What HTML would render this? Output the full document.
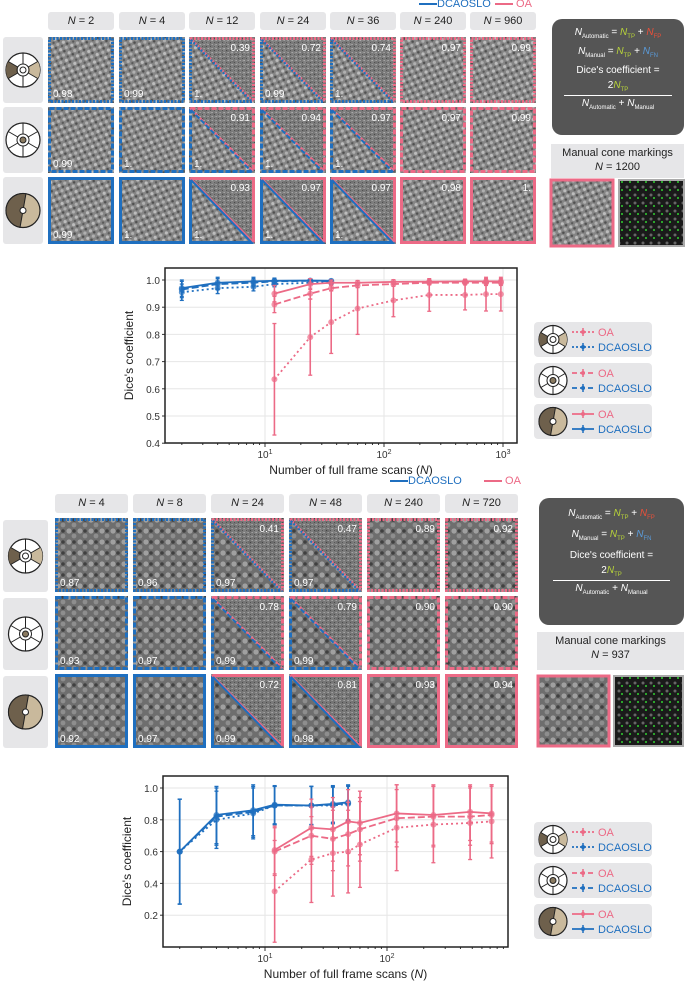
<!DOCTYPE html>
<html><head><meta charset="utf-8">
<style>
body{margin:0;background:#fff;font-family:"Liberation Sans",sans-serif;}
#root{position:relative;width:685px;height:982px;overflow:hidden;}
.hdr{position:absolute;background:#e6e6e8;border-radius:3px;font-size:11px;color:#222;text-align:center;}
.hdr i{font-style:italic}
.fbox{position:absolute;background:#555;border-radius:10px;color:#fff;font-size:10px;text-align:center;}
.mbox{position:absolute;background:#e6e6e8;font-size:11px;text-align:center;color:#222;line-height:14px;}
.lg{position:absolute;font-size:11px;}
</style></head><body>
<div id="root">
<svg id="defs" width="0" height="0" style="position:absolute">
<defs>
<pattern id="tex" width="9" height="8" patternUnits="userSpaceOnUse" patternTransform="rotate(20)">
<rect width="9" height="8" fill="#858585"/>
<circle cx="2" cy="2" r="1.6" fill="#bdbdbd"/><circle cx="6.5" cy="6" r="1.6" fill="#b0b0b0"/>
<circle cx="6" cy="2" r="1.3" fill="#505050"/><circle cx="2" cy="6" r="1.2" fill="#5a5a5a"/>
</pattern>
<pattern id="tex2" width="11" height="11" patternUnits="userSpaceOnUse">
<rect width="11" height="11" fill="#6e6e6e"/>
<circle cx="3" cy="3" r="2.6" fill="#a0a0a0"/><circle cx="8" cy="8" r="2.4" fill="#8e8e8e"/>
<circle cx="8" cy="3" r="1.8" fill="#404040"/>
</pattern>
<pattern id="noise" width="4" height="4" patternUnits="userSpaceOnUse">
<rect width="4" height="4" fill="#777"/><rect width="1" height="1" fill="#aaa"/><rect x="2" y="2" width="1" height="1" fill="#444"/><rect x="3" y="0" width="1" height="1" fill="#999"/>
</pattern>
<pattern id="dark" width="8" height="8" patternUnits="userSpaceOnUse">
<rect width="8" height="8" fill="#1a1a1a"/><circle cx="3" cy="3" r="1.5" fill="#666"/><circle cx="6" cy="6" r="1" fill="#30d030"/>
</pattern>
</defs></svg>

<div class="lg" style="left:419px;top:-2px;color:#1f6fbf"><span style="display:inline-block;width:18px;border-top:2px solid #1f6fbf;vertical-align:middle"></span>DCAOSLO</div>
<div class="lg" style="left:495px;top:-2px;color:#ec6a86"><span style="display:inline-block;width:18px;border-top:2px solid #ec6a86;vertical-align:middle"></span> OA</div>
<div class="lg" style="left:390px;top:475px;color:#1f6fbf"><span style="display:inline-block;width:18px;border-top:2px solid #1f6fbf;vertical-align:middle"></span>DCAOSLO</div>
<div class="lg" style="left:484px;top:475px;color:#ec6a86"><span style="display:inline-block;width:18px;border-top:2px solid #ec6a86;vertical-align:middle"></span> OA</div>

<div class="fbox" style="left:552px;top:19px;width:132px;height:116px">
<div style="margin-top:8px"><i>N</i><sub style="font-size:6px">Automatic</sub> = <i style="color:#b7d23a">N</i><sub style="font-size:6px;color:#b7d23a">TP</sub> + <i style="color:#e8503a">N</i><sub style="font-size:6px;color:#e8503a">FP</sub></div>
<div style="margin-top:6px"><i>N</i><sub style="font-size:6px">Manual</sub> = <i style="color:#b7d23a">N</i><sub style="font-size:6px;color:#b7d23a">TP</sub> + <i style="color:#5a9ad8">N</i><sub style="font-size:6px;color:#5a9ad8">FN</sub></div>
<div style="margin-top:6px">Dice's coefficient =</div>
<div style="margin-top:4px">2<i style="color:#b7d23a">N</i><sub style="font-size:6px;color:#b7d23a">TP</sub></div>
<div style="margin:2px 12px;border-top:1.5px solid #fff"></div>
<div><i>N</i><sub style="font-size:6px">Automatic</sub> + <i>N</i><sub style="font-size:6px">Manual</sub></div>
</div>
<div class="mbox" style="left:551px;top:144px;width:133px;height:32px;padding-top:2px">Manual cone markings<br><i>N</i> = 1200</div>

<div class="fbox" style="left:539px;top:498px;width:145px;height:127px">
<div style="margin-top:10px"><i>N</i><sub style="font-size:6px">Automatic</sub> = <i style="color:#b7d23a">N</i><sub style="font-size:6px;color:#b7d23a">TP</sub> + <i style="color:#e8503a">N</i><sub style="font-size:6px;color:#e8503a">FP</sub></div>
<div style="margin-top:8px"><i>N</i><sub style="font-size:6px">Manual</sub> = <i style="color:#b7d23a">N</i><sub style="font-size:6px;color:#b7d23a">TP</sub> + <i style="color:#5a9ad8">N</i><sub style="font-size:6px;color:#5a9ad8">FN</sub></div>
<div style="margin-top:8px">Dice's coefficient =</div>
<div style="margin-top:4px">2<i style="color:#b7d23a">N</i><sub style="font-size:6px;color:#b7d23a">TP</sub></div>
<div style="margin:2px 14px;border-top:1.5px solid #fff"></div>
<div><i>N</i><sub style="font-size:6px">Automatic</sub> + <i>N</i><sub style="font-size:6px">Manual</sub></div>
</div>
<div class="mbox" style="left:537px;top:632px;width:147px;height:36px;padding-top:2px">Manual cone markings<br><i>N</i> = 937</div>

<svg id="tiles" width="685" height="982" style="position:absolute;left:0;top:0"></svg>
<svg id="charts" width="685" height="982" style="position:absolute;left:0;top:0"></svg>
</div>

<script>
const topBlueN = [2,4,8,12,24,36];
const topBlueSolid = [0.97,0.99,0.995,0.997,0.998,0.997];
const topBlueDashed = [0.965,0.985,0.99,0.995,0.997,0.995];
const topBlueDotted = [0.955,0.97,0.975,0.985,0.99,0.99];
const topBlueErr = [0.03,0.02,0.015,0.01,0.005,0.005];
const topPinkN = [12,24,36,60,120,240,480,720,960];
const topPinkSolid = [0.95,0.985,0.99,0.99,0.993,0.994,0.995,0.995,0.995];
const topPinkDashed = [0.91,0.95,0.97,0.98,0.985,0.99,0.99,0.99,0.99];
const topPinkDotted = [0.635,0.79,0.845,0.895,0.925,0.945,0.945,0.948,0.948];
const topPinkDottedErr = [0.205,0.14,0.115,0.095,0.06,0.06,0.055,0.062,0.062];
const topPinkErr = [0.03,0.02,0.01,0.008,0.008,0.008,0.008,0.01,0.01];
const topYTicks = [0.4,0.5,0.6,0.7,0.8,0.9,1.0];
const topYLabels = ["0.4","0.5","0.6","0.7","0.8","0.9","1.0"];

const botBlueN = [2,4,8,12,24,36,48];
const botBlueSolid = [0.60,0.83,0.86,0.895,0.89,0.90,0.91];
const botBlueDashed = [0.60,0.82,0.85,0.89,0.89,0.895,0.905];
const botBlueDotted = [0.60,0.80,0.84,0.89,0.89,0.89,0.90];
const botBlueErr = [0.33,0.18,0.16,0.12,0.12,0.115,0.11];
const botPinkN = [12,24,36,48,60,120,240,480,720];
const botPinkSolid = [0.61,0.75,0.74,0.79,0.78,0.84,0.83,0.85,0.84];
const botPinkDashed = [0.60,0.70,0.68,0.71,0.74,0.81,0.82,0.82,0.83];
const botPinkDotted = [0.35,0.55,0.59,0.60,0.645,0.75,0.77,0.78,0.79];
const botPinkErr = [0.15,0.18,0.2,0.2,0.2,0.18,0.19,0.18,0.18];
const botPinkDottedErr = [0.32,0.27,0.27,0.26,0.27,0.27,0.24,0.23,0.23];
const botYTicks = [0.2,0.4,0.6,0.8,1.0];
const botYLabels = ["0.2","0.4","0.6","0.8","1.0"];
const xTickPow = [1,2,3];

const NS="http://www.w3.org/2000/svg";
function mk(p,t,a){const e=document.createElementNS(NS,t);for(const k in a)e.setAttribute(k,a[k]);p.appendChild(e);return e;}
const BLUE="#1f6fbf",PINK="#ec6a86";

function chart(g,c){
  const L=c.l,R=c.r,T=c.t,B=c.b;
  const xs=v=>c.x10+(Math.log10(v)-1)*c.dec;
  const ys=v=>c.y1+(1-v)*c.ppu;
  mk(g,'rect',{x:L,y:T,width:R-L,height:B-T,fill:'#fff'});
  c.yt.forEach((v,i)=>{
    const l=mk(g,'line',{x1:L,x2:R,y1:ys(v),y2:ys(v),stroke:'#e6e6e6','stroke-width':1});
    
    const t=mk(g,'text',{x:L-5,y:ys(v)+4,'text-anchor':'end','font-size':10,fill:'#333'});t.textContent=c.yl[i];
    
    mk(g,'line',{x1:L-3,x2:L,y1:ys(v),y2:ys(v),stroke:'#333'});
  });
  xTickPow.forEach(p=>{
    const x=xs(Math.pow(10,p)); if(x>R-1)return;
    const l=mk(g,'line',{x1:x,x2:x,y1:T,y2:B,stroke:'#e6e6e6'});
    
    mk(g,'line',{x1:x,x2:x,y1:B,y2:B+4,stroke:'#333'});
    const t=mk(g,'text',{x:x,y:B+15,'text-anchor':'middle','font-size':10,fill:'#333'});
    t.textContent='10';mk(t,'tspan',{dy:-4,'font-size':7}).textContent=String(p);
    
  });
  for(let p=0;p<=3;p++)for(let m=2;m<10;m++){const xm=xs(m*Math.pow(10,p));if(xm>L&&xm<R)mk(g,'line',{x1:xm,x2:xm,y1:B,y2:B+2,stroke:'#333'});}
  const top=c.ymax;
  function series(N,V,E,col,dash,name){
    const pts=N.map((n,i)=>xs(n)+','+ys(V[i])).join(' ');
    N.forEach((n,i)=>{
      const x=xs(n),hi=Math.min(V[i]+E[i],top),lo=V[i]-E[i];
      const eb=mk(g,'line',{x1:x,x2:x,y1:ys(hi),y2:ys(lo),stroke:col,'stroke-width':1.6});
      
      mk(g,'line',{x1:x-2,x2:x+2,y1:ys(hi),y2:ys(hi),stroke:col,'stroke-width':1.3});
      mk(g,'line',{x1:x-2,x2:x+2,y1:ys(lo),y2:ys(lo),stroke:col,'stroke-width':1.3});
    });
    const pl=mk(g,'polyline',{points:pts,fill:'none',stroke:col,'stroke-width':1.8,'stroke-dasharray':dash});
    
    N.forEach((n,i)=>{
      const p=mk(g,'circle',{cx:xs(n),cy:ys(V[i]),r:3,fill:col,'fill-opacity':0.7});
      
    });
  }
  c.series.forEach(s=>series(...s));
  const fr=mk(g,'rect',{x:L,y:T,width:R-L,height:B-T,fill:'none',stroke:'#222','stroke-width':1.5});
  
  const xt=mk(g,'text',{x:(L+R)/2+10,y:B+31,'text-anchor':'middle','font-size':12,fill:'#222'});
  xt.textContent='Number of full frame scans (';mk(xt,'tspan',{'font-style':'italic'}).textContent='N';mk(xt,'tspan',{}).textContent=')';
  
  const yt=mk(g,'text',{x:0,y:0,'text-anchor':'middle','font-size':12,fill:'#222',transform:`translate(${L-32},${(T+B)/2}) rotate(-90)`});
  yt.textContent="Dice's coefficient";
  
}
const C=document.getElementById('charts');
const g1=mk(C,'g',{});
chart(g1,{l:165,r:517,t:268,b:443,x10:265,dec:119,y1:280,ppu:272,ymax:1.015,yt:topYTicks,yl:topYLabels,series:[
 [topBlueN,topBlueDotted,topBlueErr,BLUE,'2 3','dcaoslo-dotted'],
 [topBlueN,topBlueDashed,topBlueErr,BLUE,'7 3','dcaoslo-dashed'],
 [topBlueN,topBlueSolid,topBlueErr,BLUE,'','dcaoslo-solid'],
 [topPinkN,topPinkDotted,topPinkDottedErr,PINK,'2 3','oa-dotted'],
 [topPinkN,topPinkDashed,topPinkErr,PINK,'7 3','oa-dashed'],
 [topPinkN,topPinkSolid,topPinkErr,PINK,'','oa-solid']]});
const g2=mk(C,'g',{});
chart(g2,{l:163,r:508,t:776,b:947,x10:265,dec:122,y1:788,ppu:159,ymax:1.02,yt:botYTicks,yl:botYLabels,series:[
 [botBlueN,botBlueDotted,botBlueErr,BLUE,'2 3','dcaoslo-dotted'],
 [botBlueN,botBlueDashed,botBlueErr,BLUE,'7 3','dcaoslo-dashed'],
 [botBlueN,botBlueSolid,botBlueErr,BLUE,'','dcaoslo-solid'],
 [botPinkN,botPinkDotted,botPinkDottedErr,PINK,'2 3','oa-dotted'],
 [botPinkN,botPinkDashed,botPinkErr,PINK,'7 3','oa-dashed'],
 [botPinkN,botPinkSolid,botPinkErr,PINK,'','oa-solid']]});

function icon(p,cx,cy,r,type){
  const g=mk(p,'g',{});
  
  if(type===3){
    mk(g,'circle',{cx,cy,r,fill:'#c9b99c',stroke:'#222','stroke-width':1.2});
    const a1=-80*Math.PI/180,a2=100*Math.PI/180;
    mk(g,'path',{d:`M${cx+r*Math.cos(a1)},${cy+r*Math.sin(a1)} A${r},${r} 0 0 0 ${cx+r*Math.cos(a2)},${cy+r*Math.sin(a2)} Z`,fill:'#6e604c',stroke:'#222'});
    mk(g,'circle',{cx,cy,r:3,fill:'#fff',stroke:'#222'});
    return;
  }
  mk(g,'circle',{cx,cy,r,fill:'#fff',stroke:'#222','stroke-width':1.2});
  if(type===1){
    const sec=(a,b,f)=>{const A=a*Math.PI/180,B=b*Math.PI/180,ri=6;
      mk(g,'path',{d:`M${cx+ri*Math.cos(A)},${cy+ri*Math.sin(A)} L${cx+r*Math.cos(A)},${cy+r*Math.sin(A)} A${r},${r} 0 0 1 ${cx+r*Math.cos(B)},${cy+r*Math.sin(B)} L${cx+ri*Math.cos(B)},${cy+ri*Math.sin(B)} Z`,fill:f});};
    sec(150,210,'#6e604c');sec(-30,30,'#c9b99c');
  }
  for(let k=0;k<6;k++){const a=(k*60+30)*Math.PI/180;mk(g,'line',{x1:cx+6*Math.cos(a),y1:cy+6*Math.sin(a),x2:cx+r*Math.cos(a),y2:cy+r*Math.sin(a),stroke:'#222'});}
  mk(g,'circle',{cx,cy,r:6,fill:'none',stroke:'#222'});
  mk(g,'circle',{cx,cy,r:3,fill:type===2?'#8a7a60':'#fff',stroke:'#222'});
}

const S=document.getElementById('tiles');
function tile(x,y,w,h,kind,style,lo,hi,pat){
  const g=mk(S,'g',{});
  
  mk(g,'rect',{x,y,width:w,height:h,fill:'url(#'+pat+')'});
  const dash=style==='dot'?'2 1.5':style==='dash'?'5 2':'';
  const sw=3;
  if(kind==='split'){
    mk(g,'path',{d:`M${x},${y} L${x+w},${y} L${x+w},${y+h} Z`,fill:'url(#noise)','fill-opacity':0.8});
    mk(g,'path',{d:`M${x+1.5},${y+1.5} L${x+w-1.5},${y+1.5} L${x+w-1.5},${y+h-1.5}`,fill:'none',stroke:PINK,'stroke-width':sw,'stroke-dasharray':dash});
    mk(g,'path',{d:`M${x+1.5},${y+1.5} L${x+1.5},${y+h-1.5} L${x+w-1.5},${y+h-1.5}`,fill:'none',stroke:BLUE,'stroke-width':sw,'stroke-dasharray':dash});
    mk(g,'line',{x1:x+1,y1:y+1,x2:x+w-2,y2:y+h-2,stroke:PINK,'stroke-width':2,'stroke-dasharray':dash});
    mk(g,'line',{x1:x+2,y1:y+3,x2:x+w-3,y2:y+h-1,stroke:BLUE,'stroke-width':2,'stroke-dasharray':dash});
  } else {
    mk(g,'rect',{x:x+1.5,y:y+1.5,width:w-3,height:h-3,fill:'none',stroke:kind==='blue'?BLUE:PINK,'stroke-width':sw,'stroke-dasharray':dash});
  }
  if(lo){const t=mk(g,'text',{x:x+5,y:y+h-6,'font-size':10,fill:'#fff'});t.textContent=lo;}
  if(hi){const t=mk(g,'text',{x:x+w-5,y:y+14,'font-size':10,fill:'#fff','text-anchor':'end'});t.textContent=hi;}
}
function hdr(x,y,w,h,n){
  const d=document.createElement('div');d.className='hdr';
  d.style.cssText=`left:${x}px;top:${y}px;width:${w}px;height:${h}px;line-height:${h}px`;
  d.innerHTML='<i>N</i> = '+n;
  
  document.getElementById('root').appendChild(d);
}
function ibox(x,y,w,h,type){
  const g=mk(S,'rect',{x,y,width:w,height:h,rx:3,fill:'#e6e6e8'});
  
  icon(S,x+w/2,y+h/2,17,type);
}
const topCols=[48,119,189,260,330,400,470], topW=66;
const topNs=["2","4","12","24","36","240","960"];
const topRows=[[37,66],[107,66],[177,67]];
const topKinds=['blue','blue','split','split','split','pink','pink'];
const topLo=[["0.98","0.99","1.","0.99","1.","",""],["0.99","1.","1.","1.","1.","",""],["0.99","1.","1.","1.","1.","",""]];
const topHi=[["","","0.39","0.72","0.74","0.97","0.99"],["","","0.91","0.94","0.97","0.97","0.99"],["","","0.93","0.97","0.97","0.98","1."]];
const styles=['dot','dash','solid'];
topCols.forEach((x,i)=>hdr(x,12,topW,18,topNs[i]));
topRows.forEach((r,j)=>{ibox(3,r[0],40,r[1],j+1);
  topCols.forEach((x,i)=>tile(x,r[0],topW,r[1],topKinds[i],styles[j],topLo[j][i],topHi[j][i],'tex'));});
mk(S,'rect',{x:551,y:180,width:62,height:66,fill:'url(#tex)',stroke:PINK,'stroke-width':3});
mk(S,'rect',{x:619,y:180,width:65,height:66,fill:'url(#dark)',stroke:'#aaa','stroke-width':2});
const botCols=[55,133,211,289,367,445], botW=73;
const botNs=["4","8","24","48","240","720"];
const botRows=[[518,74],[596,74],[674,74]];
const botKinds=['blue','blue','split','split','pink','pink'];
const botLo=[["0.87","0.96","0.97","0.97","",""],["0.93","0.97","0.99","0.99","",""],["0.92","0.97","0.99","0.98","",""]];
const botHi=[["","","0.41","0.47","0.89","0.92"],["","","0.78","0.79","0.90","0.90"],["","","0.72","0.81","0.93","0.94"]];
botCols.forEach((x,i)=>hdr(x,494,botW,19,botNs[i]));
botRows.forEach((r,j)=>{ibox(3,r[0]+2,45,r[1]-2,j+1);
  botCols.forEach((x,i)=>tile(x,r[0],botW,r[1],botKinds[i],styles[j],botLo[j][i],botHi[j][i],'tex2'));});
mk(S,'rect',{x:538,y:676,width:71,height:70,fill:'url(#tex2)',stroke:PINK,'stroke-width':3});
mk(S,'rect',{x:614,y:676,width:69,height:70,fill:'url(#dark)',stroke:'#aaa','stroke-width':2});

function legend(y0){
  const rows=[['2 2',1],['5 3',2],['',3]];
  rows.forEach((r,k)=>{
    const y=y0+k*41;
    const b=mk(S,'rect',{x:534,y,width:118,height:35,rx:4,fill:'#e6e6e8'});
    
    icon(S,553,y+17.5,14,r[1]);
    [[PINK,'OA',y+10],[BLUE,'DCAOSLO',y+25]].forEach(e=>{
      mk(S,'line',{x1:572,x2:594,y1:e[2],y2:e[2],stroke:e[0],'stroke-width':1.8,'stroke-dasharray':r[0]});
      mk(S,'line',{x1:583,x2:583,y1:e[2]-4,y2:e[2]+4,stroke:e[0],'stroke-width':1.5});
      mk(S,'circle',{cx:583,cy:e[2],r:2,fill:e[0]});
      const t=mk(S,'text',{x:598,y:e[2]+4,'font-size':11,fill:e[0]});t.textContent=e[1];
      
    });
  });
}
legend(322);legend(822);
</script>
</body></html>
